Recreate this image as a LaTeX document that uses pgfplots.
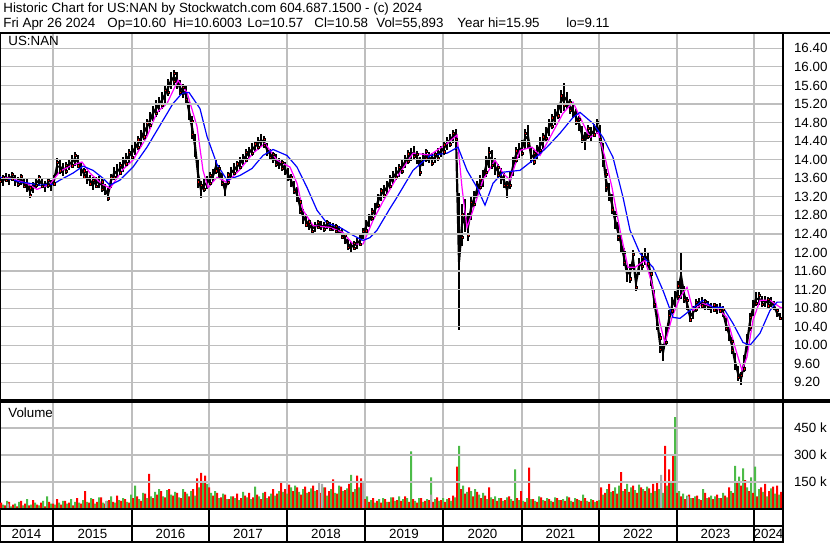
\documentclass[border=0pt]{standalone}
\usepackage{pgfplots}
\pgfplotsset{compat=1.18}
\usepackage{pgfplotstable}
\usepackage{fontspec}
\setmainfont{Liberation Sans}
\definecolor{gridgray}{RGB}{190,190,190}
\definecolor{volred}{RGB}{255,0,0}
\definecolor{volgreen}{RGB}{76,187,72}
\definecolor{volgray}{RGB}{170,170,170}
\definecolor{maone}{RGB}{255,0,255}
\definecolor{matwo}{RGB}{0,0,255}
\newcommand{\hfont}{\fontsize{6.67pt}{8pt}\selectfont}

\pgfplotstableread{
x y e
0 13.60 0.10
3 13.55 0.12
6 13.62 0.10
9 13.58 0.12
12 13.64 0.10
15 13.55 0.12
18 13.52 0.10
21 13.58 0.12
24 13.48 0.10
27 13.45 0.14
30 13.32 0.14
33 13.40 0.12
36 13.50 0.10
39 13.55 0.12
42 13.48 0.10
45 13.42 0.12
48 13.50 0.10
51 13.45 0.12
54 13.55 0.12
57 13.85 0.18
60 13.85 0.15
63 13.78 0.14
66 13.82 0.12
69 13.90 0.12
72 13.95 0.14
75 14.02 0.15
78 13.95 0.14
81 13.80 0.15
84 13.70 0.12
87 13.62 0.14
90 13.55 0.12
93 13.48 0.14
96 13.50 0.12
99 13.52 0.12
102 13.45 0.14
105 13.35 0.12
108 13.25 0.15
111 13.55 0.15
114 13.70 0.14
117 13.75 0.15
120 13.80 0.14
123 13.90 0.16
126 14.00 0.15
129 14.08 0.15
132 14.15 0.16
135 14.25 0.16
138 14.35 0.15
141 14.45 0.18
144 14.60 0.18
147 14.70 0.18
150 14.85 0.18
153 15.00 0.16
156 15.10 0.18
159 15.18 0.16
162 15.28 0.18
165 15.40 0.18
168 15.55 0.18
171 15.70 0.18
174 15.78 0.16
177 15.70 0.18
180 15.55 0.16
183 15.48 0.16
186 15.40 0.18
189 15.05 0.20
192 14.70 0.25
195 14.30 0.25
198 13.70 0.30
201 13.35 0.18
204 13.45 0.15
207 13.50 0.14
210 13.58 0.15
213 13.65 0.14
216 13.85 0.15
219 13.75 0.14
222 13.58 0.14
225 13.35 0.15
228 13.60 0.14
231 13.72 0.12
234 13.78 0.14
237 13.85 0.12
240 13.92 0.14
243 14.00 0.12
246 14.08 0.14
249 14.15 0.12
252 14.22 0.14
255 14.28 0.12
258 14.35 0.14
261 14.42 0.14
264 14.38 0.12
267 14.22 0.14
270 14.12 0.12
273 14.05 0.12
276 13.98 0.14
279 13.92 0.12
282 13.88 0.12
285 13.80 0.14
288 13.68 0.14
291 13.55 0.14
294 13.40 0.15
297 13.25 0.16
300 13.00 0.18
303 12.78 0.16
306 12.68 0.14
309 12.60 0.12
312 12.52 0.10
315 12.55 0.10
318 12.60 0.10
321 12.58 0.10
324 12.55 0.10
327 12.60 0.10
330 12.56 0.10
333 12.55 0.08
336 12.52 0.10
339 12.48 0.10
342 12.40 0.12
345 12.30 0.12
348 12.18 0.12
351 12.12 0.10
354 12.15 0.10
357 12.20 0.12
360 12.25 0.12
363 12.40 0.12
366 12.55 0.14
369 12.68 0.14
372 12.82 0.14
375 12.92 0.15
378 13.10 0.15
381 13.25 0.15
384 13.32 0.14
387 13.40 0.14
390 13.52 0.15
393 13.62 0.14
396 13.70 0.14
399 13.76 0.14
402 13.84 0.15
405 13.95 0.14
408 14.05 0.15
411 14.12 0.14
414 14.15 0.14
417 14.05 0.14
420 13.85 0.20
423 14.00 0.14
426 14.10 0.14
429 14.05 0.12
432 14.00 0.14
435 14.05 0.12
438 14.12 0.14
441 14.18 0.12
444 14.25 0.14
447 14.35 0.14
450 14.42 0.14
453 14.50 0.14
456 14.52 0.15
459 11.80 1.48
462 12.60 0.45
465 12.80 0.35
468 12.55 0.30
471 12.95 0.25
474 13.15 0.18
477 13.35 0.18
480 13.50 0.16
483 13.60 0.18
486 13.85 0.22
489 14.05 0.22
492 14.00 0.20
495 13.85 0.18
498 13.75 0.16
501 13.65 0.18
504 13.55 0.16
507 13.35 0.18
510 13.55 0.18
513 13.85 0.20
516 14.10 0.18
519 14.20 0.16
522 14.25 0.18
525 14.45 0.22
528 14.50 0.25
531 14.10 0.18
534 14.05 0.16
537 14.15 0.16
540 14.30 0.18
543 14.40 0.18
546 14.55 0.16
549 14.70 0.18
552 14.82 0.16
555 14.92 0.18
558 15.05 0.18
561 15.25 0.25
564 15.35 0.30
567 15.28 0.18
570 15.15 0.16
573 15.05 0.16
576 14.92 0.18
579 14.78 0.16
582 14.55 0.18
585 14.40 0.20
588 14.60 0.15
591 14.55 0.15
594 14.62 0.14
597 14.72 0.16
600 14.55 0.20
603 14.10 0.25
606 13.55 0.25
609 13.30 0.20
612 13.05 0.22
615 12.70 0.20
618 12.45 0.20
621 12.20 0.20
624 11.90 0.20
627 11.55 0.18
630 11.55 0.20
633 11.85 0.20
636 11.35 0.18
639 11.70 0.18
642 11.80 0.18
645 11.92 0.18
648 11.85 0.16
651 11.45 0.18
654 11.00 0.20
657 10.55 0.22
660 10.05 0.22
663 9.85 0.18
666 10.20 0.22
669 10.55 0.20
672 10.85 0.18
675 11.00 0.18
678 11.18 0.20
681 11.50 0.50
684 11.10 0.18
687 10.90 0.14
690 10.62 0.12
693 10.70 0.14
696 10.85 0.14
699 10.90 0.12
702 10.92 0.12
705 10.88 0.12
708 10.85 0.10
711 10.80 0.10
714 10.82 0.10
717 10.78 0.10
720 10.80 0.10
723 10.72 0.12
726 10.45 0.14
729 10.25 0.16
732 10.00 0.18
735 9.65 0.18
738 9.40 0.16
741 9.28 0.14
744 9.60 0.18
747 10.05 0.20
750 10.50 0.20
753 10.80 0.18
756 11.00 0.15
759 11.00 0.14
762 10.95 0.12
765 10.95 0.12
768 10.92 0.12
771 10.93 0.10
774 10.85 0.10
777 10.70 0.10
780 10.62 0.08
}\pricedata

\pgfplotstableread{
x r g
2 35 25
6 20 45
10 40 15
14 25 30
18 15 40
22 45 20
26 30 55
30 20 25
34 50 35
38 25 20
42 35 45
46 15 70
50 40 30
54 30 25
58 55 35
62 25 45
66 45 30
70 35 55
74 20 40
78 60 35
82 30 50
86 100 40
90 35 60
94 55 30
98 40 65
102 65 35
106 30 45
110 50 70
114 40 35
118 75 50
122 45 60
126 55 40
130 35 80
134 60 130
138 70 55
142 45 90
146 85 60
150 195 70
154 60 95
158 80 110
162 100 70
166 65 105
170 110 80
174 75 95
178 90 65
182 60 110
186 95 85
190 70 100
194 110 75
198 170 120
202 200 150
206 185 140
210 120 90
214 75 100
218 90 60
222 65 85
226 80 55
230 55 70
234 70 60
238 85 50
242 60 95
246 75 65
250 90 55
254 65 125
258 80 70
262 55 90
266 95 60
270 70 85
274 110 75
278 85 100
282 150 95
286 110 85
290 135 120
294 100 130
298 120 95
302 80 110
306 125 90
310 95 115
314 130 100
318 105 85
322 90 120
326 120 75
330 100 110
334 165 90
338 85 130
342 125 100
346 105 115
350 140 190
354 95 110
358 185 120
362 170 100
366 55 70
370 40 50
374 60 35
378 45 55
382 35 60
386 55 40
390 40 65
394 65 45
398 50 70
402 45 55
406 70 60
410 40 320
414 55 45
418 35 60
422 60 40
426 45 55
430 50 175
434 40 55
438 65 45
442 50 60
446 40 55
450 60 45
454 75 65
458 235 350
462 110 130
466 85 95
470 120 100
474 70 110
478 95 80
482 60 90
486 75 55
490 120 65
494 55 70
498 45 60
502 60 45
506 50 65
510 70 55
514 45 220
518 60 50
522 100 45
526 40 60
530 230 55
534 55 45
538 40 70
542 65 50
546 45 60
550 55 45
554 40 65
558 60 50
562 50 55
566 45 70
570 65 45
574 40 60
578 55 50
582 45 80
586 60 45
590 40 55
594 50 40
598 45 50
602 120 80
606 90 110
610 140 95
614 100 120
618 85 130
622 205 100
626 110 140
630 95 120
634 130 105
638 90 135
642 120 110
646 100 125
650 115 90
654 140 100
658 150 110
662 160 90
666 350 130
670 220 150
674 295 510
678 90 100
682 70 85
686 55 75
690 80 60
694 60 70
698 75 55
702 50 110
706 90 60
710 65 75
714 55 70
718 80 60
722 60 90
726 75 65
730 120 100
734 90 240
738 150 180
742 130 225
746 160 120
750 100 175
754 90 235
758 70 110
762 120 95
766 140 70
770 100 115
774 125 85
778 130 80
782 95 60
}\voldata

\pgfplotstableread{
x v
8 30
106 45
319 155
322 140
363 150
431 80
661 190
688 70
}\volgray

\begin{document}
\begin{tikzpicture}
\path[use as bounding box, fill=white] (0pt,0pt) rectangle (415pt,-271.5pt);

% header
\node[anchor=base west, inner sep=0pt, font=\hfont] at (1.5pt,-6.25pt) {Historic Chart for US:NAN by Stockwatch.com 604.687.1500 - (c) 2024};
\node[anchor=base west, inner sep=0pt, font=\hfont] at (1.5pt,-13.9pt) {Fri Apr 26 2024};
\node[anchor=base west, inner sep=0pt, font=\hfont] at (53.5pt,-13.9pt) {Op=10.60};
\node[anchor=base west, inner sep=0pt, font=\hfont] at (86.5pt,-13.9pt) {Hi=10.6003};
\node[anchor=base west, inner sep=0pt, font=\hfont] at (123.5pt,-13.9pt) {Lo=10.57};
\node[anchor=base west, inner sep=0pt, font=\hfont] at (157pt,-13.9pt) {Cl=10.58};
\node[anchor=base west, inner sep=0pt, font=\hfont] at (188pt,-13.9pt) {Vol=55,893};
\node[anchor=base west, inner sep=0pt, font=\hfont] at (228.5pt,-13.9pt) {Year hi=15.95};
\node[anchor=base west, inner sep=0pt, font=\hfont] at (283pt,-13.9pt) {lo=9.11};

% main price panel
\begin{axis}[
  anchor=north west, at={(0pt,-16.5pt)},
  width=391.5pt, height=183.5pt, scale only axis,
  xmin=0, xmax=783, ymin=8.82, ymax=16.73,
  axis line style={line width=0.9pt},
  xtick={53,132,209,287,365,443,522,599,677,754}, xticklabels={},
  ytick={9.2,9.6,10,10.4,10.8,11.2,11.6,12,12.4,12.8,13.2,13.6,14,14.4,14.8,15.2,15.6,16,16.4},
  yticklabels={9.20,9.60,10.00,10.40,10.80,11.20,11.60,12.00,12.40,12.80,13.20,13.60,14.00,14.40,14.80,15.20,15.60,16.00,16.40},
  tick label style={font=\hfont},
  yticklabel style={anchor=west, xshift=393.5pt},
  major tick length=0pt,
  xmajorgrids, ymajorgrids,
  major grid style={draw=gridgray, line width=0.6pt},
]
\addplot[black, line width=1.1pt, forget plot] table[x=x, y=y] \pricedata;
\addplot[draw=none, forget plot,
  error bars/.cd, y dir=both, y explicit, error mark=none,
  error bar style={draw=black, line width=1.3pt}]
  table[x=x, y=y, y error=e] \pricedata;
\addplot[only marks, mark=square*, mark size=0.55pt, draw=none, fill=red, mark repeat=2]
  table[x=x, y expr=\thisrow{y}-0.6*\thisrow{e}] \pricedata;
\addplot[only marks, mark=square*, mark size=0.55pt, draw=none, fill=red, mark repeat=3, mark phase=2]
  table[x=x, y expr=\thisrow{y}+0.5*\thisrow{e}] \pricedata;
\addplot[maone, line width=0.6pt] coordinates {
(0,13.62)(10,13.60)(27,13.49)(37,13.36)(50,13.47)(60,13.75)(70,13.86)(82,13.95)(90,13.71)(100,13.51)(110,13.38)(123,13.79)(133,13.99)(147,14.50)(157,15.02)(167,15.21)(178,15.71)(187,15.45)(197,14.72)(203,13.77)(208,13.40)(217,13.62)(227,13.51)(240,13.79)(253,14.14)(265,14.35)(277,13.99)(290,13.84)(297,13.49)(303,12.91)(313,12.58)(330,12.54)(343,12.43)(353,12.18)(363,12.18)(373,12.69)(383,13.10)(397,13.62)(413,14.14)(430,14.10)(447,14.35)(457,14.53)(462,13.40)(467,12.54)(473,12.91)(483,13.56)(495,13.99)(503,13.71)(510,13.56)(520,14.20)(532,14.27)(540,14.09)(550,14.48)(563,15.00)(573,15.24)(583,14.78)(590,14.48)(598,14.59)(605,14.05)(612,13.40)(620,12.48)(628,11.68)(635,11.68)(645,11.83)(652,11.33)(660,10.47)(665,10.04)(672,10.60)(680,11.03)(687,11.25)(693,10.75)(703,10.90)(717,10.80)(727,10.60)(735,9.96)(742,9.46)(747,9.75)(753,10.54)(760,10.97)(770,10.97)(780,10.82)(783,10.80)
};
\addplot[matwo, line width=0.6pt] coordinates {
(0,13.62)(10,13.58)(20,13.52)(27,13.50)(40,13.45)(53,13.47)(60,13.56)(73,13.71)(83,13.86)(93,13.77)(103,13.60)(110,13.45)(120,13.56)(133,13.84)(147,14.27)(160,14.74)(173,15.21)(182,15.43)(189,15.45)(200,15.10)(207,14.50)(217,13.90)(227,13.56)(240,13.66)(252,13.81)(263,14.09)(273,14.22)(287,14.09)(297,13.84)(307,13.40)(317,12.91)(327,12.63)(340,12.54)(353,12.37)(363,12.26)(370,12.32)(377,12.48)(390,12.95)(397,13.19)(413,13.77)(430,14.09)(447,14.14)(458,14.27)(467,13.77)(477,13.40)(485,13.02)(493,13.49)(503,13.73)(520,13.77)(533,13.99)(547,14.27)(560,14.57)(573,14.91)(580,15.02)(593,14.78)(603,14.48)(613,14.05)(623,13.19)(630,12.48)(640,11.98)(653,11.68)(663,11.18)(673,10.60)(680,10.58)(690,10.75)(703,10.97)(713,10.82)(723,10.82)(733,10.47)(743,10.06)(750,10.00)(760,10.26)(770,10.75)(777,10.93)(783,10.93)
};
\end{axis}
\node[anchor=base west, inner sep=0pt, font=\hfont] at (4pt,-22.5pt) {US:NAN};

% volume panel
\begin{axis}[
  anchor=north west, at={(0pt,-201pt)},
  width=391.5pt, height=53.5pt, scale only axis,
  xmin=0, xmax=783, ymin=0, ymax=594,
  axis line style={line width=0.9pt},
  xtick={53,132,209,287,365,443,522,599,677,754}, xticklabels={},
  ytick={150,300,450}, yticklabels={150 k,300 k,450 k},
  tick label style={font=\hfont},
  yticklabel style={anchor=west, xshift=393.5pt},
  major tick length=0pt,
  xmajorgrids, ymajorgrids,
  major grid style={draw=gridgray, line width=0.6pt},
]
\addplot[ybar, bar width=1pt, bar shift=-0.5pt, fill=volred, draw=none] table[x=x, y=r] \voldata;
\addplot[ybar, bar width=1pt, bar shift=0.5pt, fill=volgreen, draw=none] table[x=x, y=g] \voldata;
\addplot[ybar, bar width=1pt, bar shift=0pt, fill=volgray, draw=none] table[x=x, y=v] \volgray;
\end{axis}
\node[anchor=base west, inner sep=0pt, font=\hfont] at (4pt,-208.5pt) {Volume};

% date band
\begin{axis}[
  anchor=north west, at={(0pt,-254.5pt)},
  width=391.5pt, height=16.5pt, scale only axis,
  xmin=0, xmax=783, ymin=0, ymax=33,
  axis line style={line width=0.6pt},
  xtick={26.5,92.5,170.5,248,326,404,482.5,560.5,638,715.5,768.5},
  xticklabels={2014,2015,2016,2017,2018,2019,2020,2021,2022,2023,2024},
  minor xtick={53,132,209,287,365,443,522,599,677,754},
  xminorgrids, minor grid style={black, line width=0.6pt},
  ytick={16}, yticklabels={}, ymajorgrids, major grid style={black, line width=0.6pt},
  xticklabel style={font=\hfont, anchor=base, yshift=1.6pt},
  major tick length=0pt, minor tick length=0pt,
]
\addplot[draw=none] coordinates {(0,0)};
\end{axis}

% horizontal grid rules drawn after the panels
\foreach \yy in {24.155,33.435,42.714,51.993,61.272,70.551,79.831,89.110,98.389,107.668,116.947,126.227,135.506,144.785,154.064,163.343,172.623,181.902,191.181,213.97,227.48,240.99}
  {\draw[gridgray, line width=0.6pt] (0.5pt,-\yy pt) -- (391pt,-\yy pt);}

% right column rules
\draw[line width=0.9pt] (0pt,-16.5pt) -- (415pt,-16.5pt);
\draw[line width=0.6pt] (391.5pt,-200pt) -- (415pt,-200pt);
\draw[line width=0.6pt] (391.5pt,-201pt) -- (415pt,-201pt);
\draw[line width=1.2pt] (391.5pt,-16.5pt) -- (391.5pt,-271pt);
\end{tikzpicture}
\end{document}
